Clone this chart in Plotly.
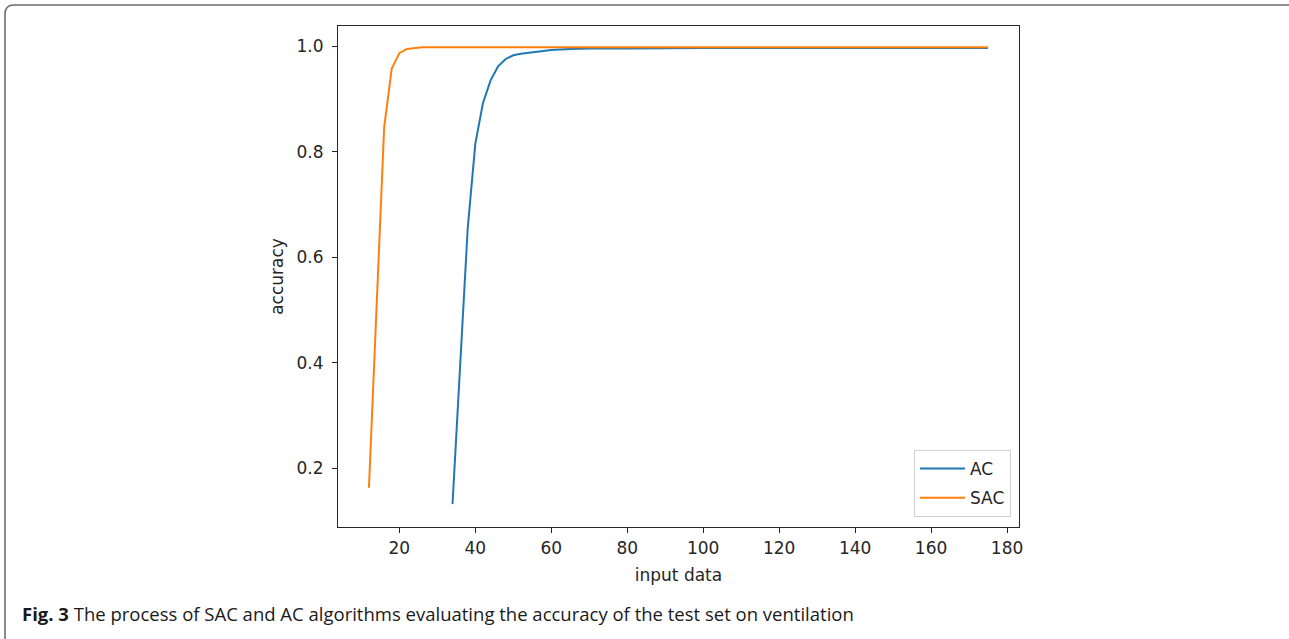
import plotly.graph_objects as go

# ---- data ----
ac_x = [34, 36, 38, 40, 42, 44, 46, 48, 50, 52, 55, 60, 65, 70, 80, 90, 100, 120, 140, 160, 175]
ac_y = [0.132, 0.39, 0.655, 0.815, 0.892, 0.935, 0.962, 0.976, 0.983, 0.986, 0.989, 0.993, 0.995, 0.996, 0.996, 0.997, 0.997, 0.997, 0.997, 0.997, 0.997]

sac_x = [12, 14, 16, 18, 20, 22, 24, 26, 30, 40, 60, 80, 100, 120, 140, 160, 175]
sac_y = [0.163, 0.52, 0.846, 0.958, 0.987, 0.995, 0.997, 0.998, 0.998, 0.998, 0.998, 0.998, 0.998, 0.998, 0.998, 0.998, 0.998]

x_ticks = [20, 40, 60, 80, 100, 120, 140, 160, 180]
y_ticks = [0.2, 0.4, 0.6, 0.8, 1.0]

caption_bold = "Fig. 3"
caption_text = " The process of SAC and AC algorithms evaluating the accuracy of the test set on ventilation"

# ---- layout geometry (pixels) ----
W, H = 1289, 639
L, R, T, B = 338, 1019, 26, 527
PW, PH = R - L, B - T


def px(x):
    return (x - L) / PW


def py(y):
    return (B - y) / PH


fig = go.Figure()
fig.add_trace(go.Scatter(x=ac_x, y=ac_y, mode="lines", name="AC", legendgroup="ac",
                         line=dict(color="#1f77b4", width=2)))
fig.add_trace(go.Scatter(x=sac_x, y=sac_y, mode="lines", name="SAC", legendgroup="sac",
                         line=dict(color="#ff7f0e", width=2)))

axis_common = dict(showline=True, linecolor="#262626", linewidth=1.2, mirror=True,
                   ticks="outside", ticklen=5, tickwidth=1, tickcolor="#262626",
                   showgrid=False, zeroline=False,
                   tickfont=dict(family="DejaVu Sans", size=17, color="#262626"))

fig.update_xaxes(range=[3.85, 183.15], tickvals=x_ticks,
                 title=dict(text="input data", standoff=12,
                            font=dict(family="DejaVu Sans", size=17, color="#262626")),
                 **axis_common)
fig.update_yaxes(range=[0.0887, 1.0385], tickvals=y_ticks, tickformat=".1f",
                 ticklabelstandoff=5,
                 title=dict(text="accuracy", standoff=8,
                            font=dict(family="DejaVu Sans", size=17, color="#262626")),
                 **axis_common)

fig.update_layout(
    width=W, height=H,
    margin=dict(l=L, r=W - R, t=T, b=H - B, pad=0),
    paper_bgcolor="white", plot_bgcolor="white",
    showlegend=True,
    legend=dict(x=px(1011), y=py(517), xanchor="right", yanchor="bottom",
                bgcolor="rgba(255,255,255,0.8)", bordercolor="#d0d0d0", borderwidth=1,
                font=dict(family="DejaVu Sans", size=17, color="#262626"),
                itemwidth=45, tracegroupgap=4),
)

# caption
fig.add_annotation(xref="paper", yref="paper", x=px(20), y=py(613),
                   xanchor="left", yanchor="middle", showarrow=False,
                   text="<b>" + caption_bold + "</b>" + caption_text,
                   font=dict(family="Open Sans", size=18.5, color="#1a1a1a"))

# outer rounded frame
path = (f"M {px(5)},{py(639)} L {px(5)},{py(14)} Q {px(5)},{py(5)} {px(14)},{py(5)} "
        f"L {px(1292)},{py(5)}")
fig.add_shape(type="path", xref="paper", yref="paper", path=path,
              line=dict(color="#6e6e6e", width=1.6), layer="above")

fig.write_html("out.html")
